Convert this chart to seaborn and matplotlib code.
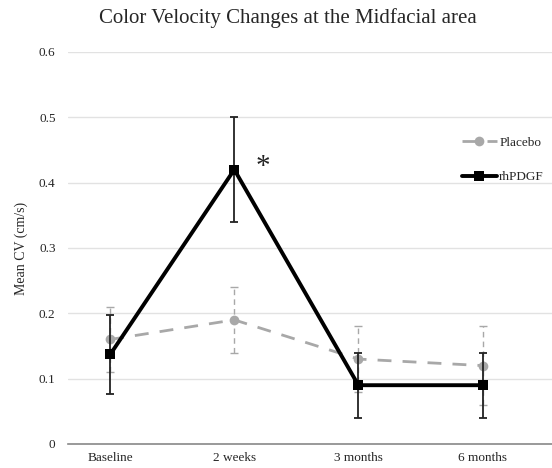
import matplotlib
matplotlib.use("Agg")
import matplotlib.pyplot as plt
import numpy as np
import pandas as pd
import seaborn as sns

# data
timepoints = ["Baseline", "2 weeks", "3 months", "6 months"]
placebo_mean = [0.16, 0.19, 0.13, 0.12]
placebo_err = [0.05, 0.05, 0.05, 0.06]
rhpdgf_mean = [0.137, 0.42, 0.09, 0.09]
rhpdgf_err = [0.06, 0.08, 0.05, 0.05]
yticks = [0, 0.1, 0.2, 0.3, 0.4, 0.5, 0.6]

sns.set_theme(style="white")
plt.rcParams["font.family"] = ["Liberation Serif", "DejaVu Serif"]

df = pd.DataFrame({
    "time": timepoints * 2,
    "pos": list(range(len(timepoints))) * 2,
    "cv": placebo_mean + rhpdgf_mean,
    "group": ["Placebo"] * 4 + ["rhPDGF"] * 4,
})

fig = plt.figure(figsize=(5.52, 4.68), dpi=100)
ax = fig.add_axes([68 / 552, 24 / 468, 484 / 552, 392 / 468])

for y in yticks[1:]:
    ax.axhline(y, color="#e2e2e2", lw=1.0, zorder=0)

# error bars first (behind lines)
x = np.arange(len(timepoints))
eb = ax.errorbar(x, placebo_mean, yerr=placebo_err, fmt="none", ecolor="#a8a8a8",
                 elinewidth=1.0, capsize=3, capthick=1.0, zorder=2)
eb[2][0].set_linestyle((0, (4, 3)))
ax.errorbar(x, rhpdgf_mean, yerr=rhpdgf_err, fmt="none", ecolor="#222222",
            elinewidth=1.3, capsize=3, capthick=1.3, zorder=4)

sns.lineplot(data=df[df.group == "Placebo"], x="pos", y="cv", ax=ax, color="#a8a8a8",
             lw=2.0, marker="o", markersize=7, markeredgewidth=0, dashes=False,
             linestyle=(0, (5, 4)), label="Placebo", zorder=3)
sns.lineplot(data=df[df.group == "rhPDGF"], x="pos", y="cv", ax=ax, color="black",
             lw=2.8, marker="s", markersize=7, markeredgewidth=0,
             label="rhPDGF", zorder=5)

ax.text(1.23, 0.424, "*", fontsize=21, ha="center", va="center", color="#222222")

ax.set_xlim(-0.34, 3.56)
ax.set_ylim(0, 0.6)
ax.set_yticks(yticks)
ax.set_yticklabels(["0", "0.1", "0.2", "0.3", "0.4", "0.5", "0.6"], fontsize=9.5)
ax.set_xticks(x)
ax.set_xticklabels(timepoints, fontsize=9.5)
ax.tick_params(axis="x", length=4, color="#888888", direction="out", pad=2)
ax.tick_params(axis="y", length=0, pad=9)
for s in ["top", "right", "left"]:
    ax.spines[s].set_visible(False)
ax.spines["bottom"].set_color("#888888")
ax.spines["bottom"].set_linewidth(1.2)

ax.set_xlabel("")
ax.set_ylabel("Mean CV (cm/s)", fontsize=10, labelpad=8)
fig.text(0.522, 0.962, "Color Velocity Changes at the Midfacial area",
         ha="center", va="center", fontsize=15)

leg = ax.legend(loc="upper left", bbox_to_anchor=(0.79, 0.815), frameon=False,
                fontsize=9.5, handlelength=2.6, labelspacing=1.7, handletextpad=0.2)

fig.savefig("out.png", dpi=100)
